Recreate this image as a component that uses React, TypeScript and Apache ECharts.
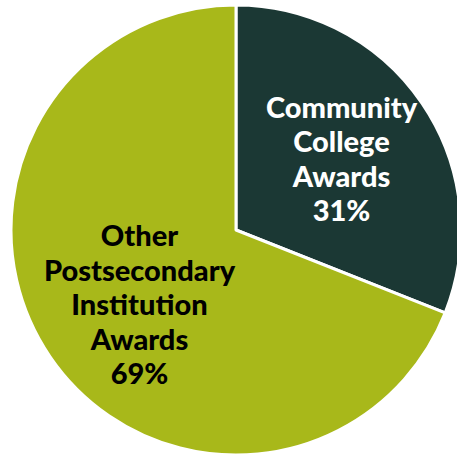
import React, { useEffect, useRef } from "react";
import * as echarts from "echarts";

const categories = ["Community\nCollege\nAwards", "Other\nPostsecondary\nInstitution\nAwards"];
const values = [31, 69];
const colors = ["#1b3834", "#a8b81a"];
const labelColors = ["#ffffff", "#000000"];
const labelShift = [
  [10, -7],
  [-1, 9],
];

export default function App() {
  const ref = useRef<HTMLDivElement>(null);
  useEffect(() => {
    if (!ref.current) return;
    const chart = echarts.init(ref.current, null, { renderer: "svg" });
    chart.setOption({
      animation: false,
      series: [
        {
          type: "pie",
          center: [236, 230],
          radius: 225,
          startAngle: 90,
          clockwise: true,
          avoidLabelOverlap: false,
          itemStyle: { borderColor: "#ffffff", borderWidth: 3 },
          label: {
            show: true,
            position: "inside",
            fontFamily: "Lato",
            fontWeight: 900,
            fontSize: 29,
            lineHeight: 34.5,
            align: "center",
            formatter: (p: any) => `${p.name}\n${p.value}%`,
          },
          labelLayout: (params: any) => ({
            dx: labelShift[params.dataIndex][0],
            dy: labelShift[params.dataIndex][1],
          }),
          labelLine: { show: false },
          emphasis: { disabled: true },
          data: categories.map((name, i) => ({
            name,
            value: values[i],
            itemStyle: { color: colors[i] },
            label: { color: labelColors[i] },
          })),
        },
      ],
    });
    return () => chart.dispose();
  }, []);
  return (
    <div
      ref={ref}
      style={{ position: "fixed", left: 0, top: 0, width: 457, height: 458, background: "#ffffff" }}
    />
  );
}
